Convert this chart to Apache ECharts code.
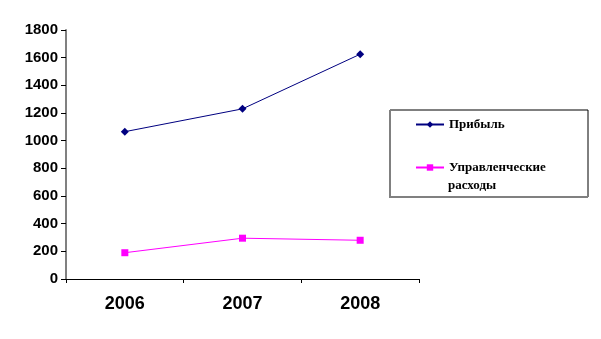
<!DOCTYPE html>
<html><head><meta charset="utf-8">
<script src="https://cdn.jsdelivr.net/npm/echarts@6/dist/echarts.min.js"></script>
<style>html,body{margin:0;padding:0;background:#fff}#c{width:601px;height:339px}</style>
</head><body><div id="c"></div>
<script>
const categories = ['2006', '2007', '2008'];
const profit = [1065, 1230, 1625];
const expenses = [190, 295, 280];
const yTicks = [0, 200, 400, 600, 800, 1000, 1200, 1400, 1600, 1800];
const seriesNames = ['Прибыль', 'Управленческие расходы'];

const chart = echarts.init(document.getElementById('c'), null, {renderer: 'canvas'});
const legendText = {fontFamily: 'Liberation Serif', fontWeight: 'bold', fontSize: 13, color: '#000'};
chart.setOption({
  animation: false,
  backgroundColor: '#fff',
  grid: {left: 66, right: 182, top: 30, bottom: 60, containLabel: false},
  xAxis: {
    type: 'category', data: categories, boundaryGap: true,
    axisLine: {lineStyle: {color: '#000', width: 1}},
    axisTick: {show: true, length: 4, lineStyle: {color: '#000'}},
    axisLabel: {fontFamily: 'Liberation Sans', fontWeight: 'bold', fontSize: 18, color: '#000', margin: 16},
    splitLine: {show: false}
  },
  yAxis: {
    type: 'value', min: yTicks[0], max: yTicks[yTicks.length - 1], interval: 200,
    axisLine: {show: true, lineStyle: {color: '#808080', width: 2}},
    axisTick: {show: true, length: 5, lineStyle: {color: '#000'}},
    axisLabel: {fontFamily: 'Liberation Sans', fontWeight: 'bold', fontSize: 15, color: '#000', margin: 8,
      formatter: v => String(v)},
    splitLine: {show: false}
  },
  legend: [
    {data: [seriesNames[0]], left: 415, top: 118, padding: 0, itemWidth: 28, itemHeight: 8, textStyle: legendText},
    {data: [seriesNames[1]], left: 415, top: 161, padding: 0, itemWidth: 28, itemHeight: 8, textStyle: legendText,
     formatter: () => 'Управленческие'}
  ],
  graphic: [
    {type: 'rect', shape: {x: 390, y: 110, width: 198, height: 87}, style: {fill: 'none', stroke: '#000', lineWidth: 1}, z: 0},
    {type: 'polyline', shape: {points: [[390, 110], [390, 197], [588, 197]]}, style: {stroke: '#808080', lineWidth: 2, fill: 'none'}, z: 1},
    {type: 'text', left: 448, top: 179, style: {text: 'расходы', fontFamily: 'Liberation Serif', fontWeight: 'bold', fontSize: 13, fill: '#000'}}
  ],
  series: [
    {name: seriesNames[0], type: 'line', data: profit, symbol: 'diamond', symbolSize: 8,
     lineStyle: {color: '#000080', width: 1}, itemStyle: {color: '#000080'}},
    {name: seriesNames[1], type: 'line', data: expenses, symbol: 'rect', symbolSize: 7,
     lineStyle: {color: '#FF00FF', width: 1}, itemStyle: {color: '#FF00FF'}}
  ]
});
</script></body></html>
